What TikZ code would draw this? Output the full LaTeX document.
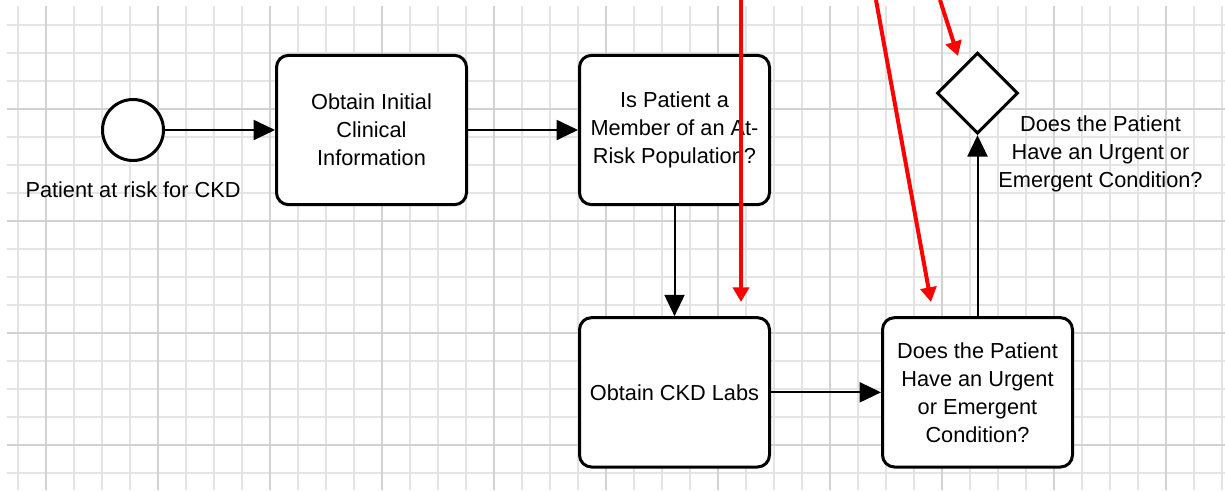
\documentclass[tikz,border=0pt]{standalone}
\usepackage{fontspec}
\setmainfont{Liberation Sans}
\usetikzlibrary{shapes.geometric,arrows.meta,positioning}
\definecolor{gridminor}{RGB}{228,228,228}
\definecolor{gridmajor}{RGB}{210,210,210}
\definecolor{markred}{RGB}{255,0,0}

\begin{document}
\begin{tikzpicture}[x=0.75pt,y=-0.75pt,node distance=82.5pt and 82.5pt]
  \tikzstyle{taskbox}=[rectangle,draw=black,line width=2.25pt,fill=white,minimum width=142.5pt,minimum height=112pt,rounded corners=9pt,align=center,font=\fontsize{16.3pt}{21pt}\selectfont]
  \tikzstyle{startev}=[circle,draw=black,line width=2.25pt,fill=white,minimum size=45.75pt,inner sep=0pt]
  \tikzstyle{gateway}=[diamond,draw=black,line width=2.25pt,fill=white,minimum width=60.75pt,minimum height=60.75pt,inner sep=0pt]
  \tikzstyle{lbl}=[inner sep=0pt,align=center,font=\fontsize{16.3pt}{21pt}\selectfont]
  \tikzstyle{flow}=[line width=1.5pt,-{Triangle[length=16pt,width=15pt]}]
  \tikzstyle{redmark}=[draw=markred,line width=3pt,-{Triangle[length=11pt,width=12pt]}]

  \useasboundingbox (0,0) rectangle (1225,490);
  \fill[white] (0,0) rectangle (1225,490);
  \foreach \k in {0,...,43}
    \draw[gridminor,line width=0.9pt] (18+28*\k,6) -- (18+28*\k,490);
  \foreach \k in {0,...,16}
    \draw[gridminor,line width=0.9pt] (7,25+28*\k) -- (1225,25+28*\k);
  \foreach \k in {1,5,...,41}
    \draw[gridmajor,line width=1.1pt] (18+28*\k,6) -- (18+28*\k,490);
  \foreach \k in {3,7,...,15}
    \draw[gridmajor,line width=1.1pt] (7,25+28*\k) -- (1225,25+28*\k);

  \node[startev] (start) at (133,130) {};
  \node[lbl] (startlbl) at ([yshift=-44.5pt]start.center) {Patient at risk for CKD};
  \node[taskbox,right=of start] (initial) {Obtain Initial\\Clinical\\Information};
  \node[taskbox,right=of initial] (atrisk) {Is Patient a\\Member of an At-\\Risk Population?};
  \node[taskbox,below=of atrisk] (labs) {Obtain CKD Labs};
  \node[taskbox,right=of labs] (urgent) {Does the Patient\\Have an Urgent\\or Emergent\\Condition?};
  \node[gateway,above=135.75pt of urgent] (gw) {};
  \node[lbl] (gwlbl) at ([xshift=92.25pt,yshift=-45.75pt]gw.center) {Does the Patient\\Have an Urgent or\\Emergent Condition?};

  \draw[flow] (start) -- (initial);
  \draw[flow] (initial) -- (atrisk);
  \draw[flow] (atrisk) -- (labs);
  \draw[flow] (labs) -- (urgent);
  \draw[flow] (urgent) -- (gw);

  \coordinate (redA1) at (741,0);
  \coordinate (redA2) at (741,302);
  \coordinate (redB1) at (876,0);
  \coordinate (redB2) at (931,302);
  \coordinate (redC1) at (940,0);
  \coordinate (redC2) at (958,56);
  \draw[redmark] (redA1) -- (redA2);
  \draw[redmark] (redB1) -- (redB2);
  \draw[redmark] (redC1) -- (redC2);
\end{tikzpicture}
\end{document}
